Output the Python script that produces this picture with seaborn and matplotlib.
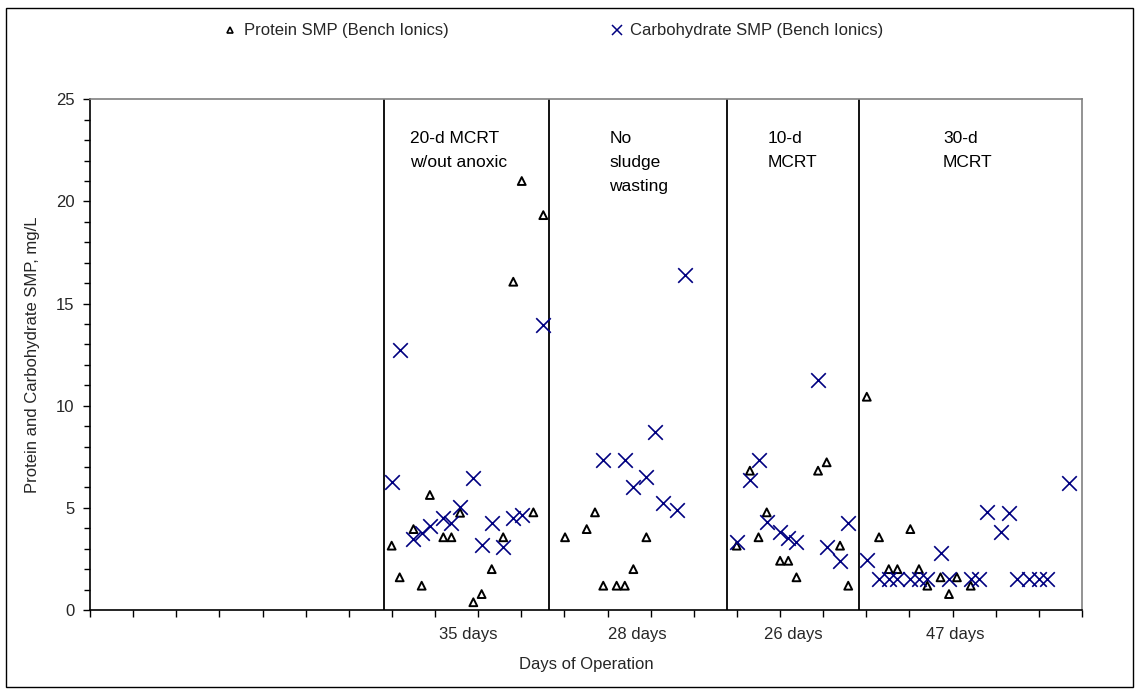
import numpy as np
import pandas as pd
import matplotlib
matplotlib.use("Agg")
import matplotlib.pyplot as plt
import seaborn as sns
from matplotlib.lines import Line2D
from matplotlib.patches import Rectangle
import matplotlib.transforms as mtransforms

# ---------------- data ----------------
protein_x = [34.97, 35.9, 37.5, 38.45, 39.4, 40.96, 41.9, 42.9, 44.44, 45.4, 46.57, 47.9, 49.07, 50.05, 51.4, 52.55,
             55.07, 57.58, 58.54, 59.5, 61.05, 62.0, 62.99, 64.5,
             74.97, 76.5, 77.5, 78.45, 80.0, 80.95, 81.9, 84.4, 85.4, 86.95, 87.9,
             90.05, 91.47, 92.6, 93.6, 95.1, 96.1, 97.07, 98.6, 99.58, 100.5, 102.1]
protein_y = [3.15, 1.6, 3.96, 1.19, 5.63, 3.56, 3.56, 4.76, 0.38, 0.78, 2.0, 3.56, 16.07, 21.0, 4.78, 19.33,
             3.56, 3.96, 4.78, 1.19, 1.19, 1.19, 2.0, 3.56,
             3.15, 6.82, 3.56, 4.78, 2.41, 2.41, 1.6, 6.82, 7.23, 3.15, 1.19,
             10.44, 3.56, 2.0, 2.0, 3.96, 2.0, 1.19, 1.6, 0.78, 1.6, 1.19]

carb_x = [34.97, 35.9, 37.5, 38.45, 39.4, 40.96, 41.9, 42.9, 44.44, 45.4, 46.57, 47.9, 49.07, 50.05, 52.55,
          59.5, 62.0, 62.99, 64.5, 65.5, 66.47, 68.0, 68.98,
          74.97, 76.5, 77.5, 78.45, 80.0, 80.95, 81.9, 84.4, 85.4, 86.95, 87.9,
          90.05, 91.47, 92.6, 93.6, 95.1, 96.1, 97.07, 98.6, 99.58, 102.1, 103.06, 104.0, 105.6, 106.5,
          107.5, 108.9, 110.0, 111.0, 113.5]
carb_y = [6.28, 12.73, 3.47, 3.75, 4.13, 4.49, 4.24, 5.06, 6.44, 3.18, 4.24, 3.07, 4.49, 4.65, 13.95,
          7.34, 7.34, 6.04, 6.53, 8.73, 5.22, 4.89, 16.4,
          3.34, 6.36, 7.34, 4.32, 3.83, 3.51, 3.34, 11.26, 3.1, 2.41, 4.24,
          2.43, 1.52, 1.52, 1.52, 1.52, 1.52, 1.52, 2.77, 1.52, 1.52, 1.52, 4.78, 3.83, 4.73,
          1.52, 1.52, 1.52, 1.52, 6.2]

period_bounds = [34.1, 53.25, 73.9, 89.2]
period_names = ["20-d MCRT\nw/out anoxic", "No\nsludge\nwasting", "10-d\nMCRT", "30-d\nMCRT"]
period_name_x = [37.1, 60.2, 78.6, 98.9]
period_days = ["35 days", "28 days", "26 days", "47 days"]
period_days_x = [43.8, 63.5, 81.5, 100.3]

series_protein = "Protein SMP (Bench Ionics)"
series_carb = "Carbohydrate SMP (Bench Ionics)"

# ---------------- figure ----------------
sns.set_theme(style="white")
plt.rcParams["font.family"] = ["Liberation Sans", "DejaVu Sans"]
plt.rcParams["font.size"] = 12

W, H = 1139, 693
fig = plt.figure(figsize=(W / 100, H / 100), dpi=100)
fig.patch.set_facecolor("white")
ax = fig.add_axes([90 / W, 1 - 610 / H, (1082 - 90) / W, (610 - 99.3) / H])

df_p = pd.DataFrame({"x": protein_x, "y": protein_y})
df_c = pd.DataFrame({"x": carb_x, "y": carb_y})

for b in period_bounds:
    ax.axvline(b, color="black", lw=1.3, zorder=1)

sns.scatterplot(data=df_p, x="x", y="y", ax=ax, marker="^", s=32,
                facecolor="none", edgecolor="black", linewidth=1.4, zorder=3, legend=False)
sns.scatterplot(data=df_c, x="x", y="y", ax=ax, marker="x", s=110,
                color="#000080", linewidth=1.2, zorder=4, legend=False)

ax.set_xlim(0, 115)
ax.set_ylim(0, 25)
ax.set_xticks(np.arange(0, 116, 5))
ax.set_xticklabels([])
ax.set_yticks(np.arange(0, 26, 5))
ax.set_yticklabels([str(v) for v in range(0, 26, 5)], fontsize=12)
ax.set_yticks(np.arange(0, 26, 1), minor=True)
ax.tick_params(axis="both", which="major", direction="out", length=5, width=1, color="black",
               bottom=True, left=True, pad=6)
ax.tick_params(axis="y", which="minor", direction="out", length=4, width=1, color="black", left=True)
ax.set_xlabel("")
ax.set_ylabel("Protein and Carbohydrate SMP, mg/L", fontsize=12)
ax.yaxis.set_label_coords(-50 / 992, 0.5)

for side in ["left", "bottom"]:
    ax.spines[side].set_color("black")
    ax.spines[side].set_linewidth(1.2)
for side in ["top", "right"]:
    ax.spines[side].set_color("#808080")
    ax.spines[side].set_linewidth(1.2)

for name, nx in zip(period_names, period_name_x):
    ax.text(nx, 23.45, name, ha="left", va="top", fontsize=12.5, linespacing=1.77, color="black")

trans = mtransforms.blended_transform_factory(ax.transData, ax.transAxes)
for lab, dx in zip(period_days, period_days_x):
    ax.text(dx, -24 / 510.7, lab, transform=trans, ha="center", va="center", fontsize=12)

ax.text(0.5, -54 / 510.7, "Days of Operation", transform=ax.transAxes,
        ha="center", va="center", fontsize=12)

handles = [
    Line2D([], [], marker="^", linestyle="none", markerfacecolor="none",
           markeredgecolor="black", markersize=4.5, markeredgewidth=1.2),
    Line2D([], [], marker="x", linestyle="none", color="#000080",
           markersize=7, markeredgewidth=1.1),
]
fig.legend(handles, [series_protein, series_carb], loc="center left",
           bbox_to_anchor=(207 / W, 1 - 31 / H), ncol=2, frameon=False,
           handlelength=1.0, handletextpad=0.3, columnspacing=9.6, fontsize=12)

fig.patches.append(Rectangle((6 / W, 1 - 687 / H), (1133 - 6) / W, (687 - 8) / H,
                             transform=fig.transFigure, fill=False, edgecolor="black", lw=1.0))

fig.savefig("out.png", dpi=100)
